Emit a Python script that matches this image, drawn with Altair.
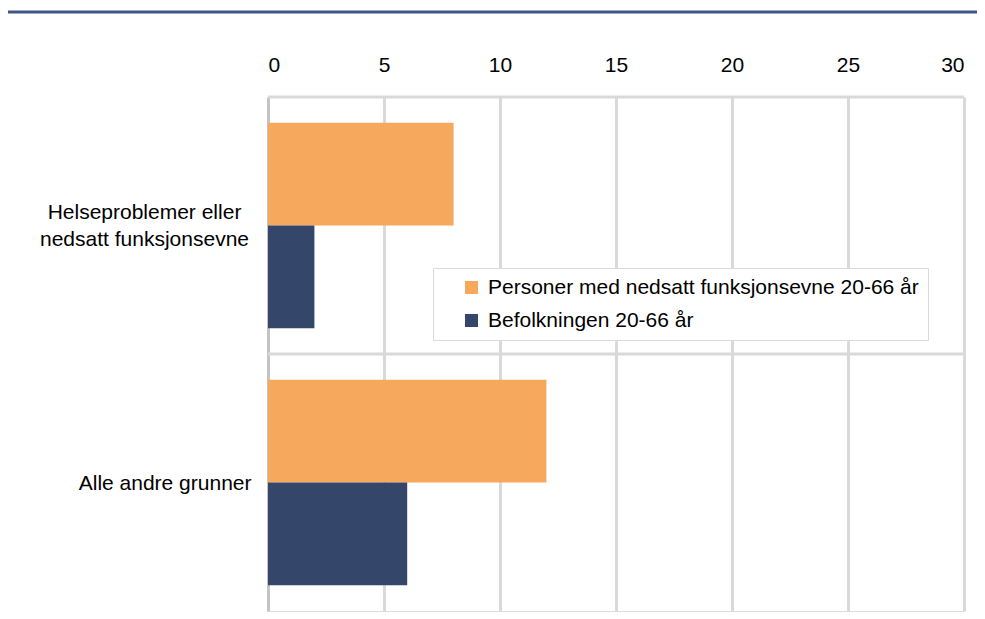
import altair as alt
import pandas as pd

categories = ["Helseproblemer eller nedsatt funksjonsevne", "Alle andre grunner"]
series = ["Personer med nedsatt funksjonsevne 20-66 år", "Befolkningen 20-66 år"]
values_disabled = [8.0, 12.0]
values_population = [2.0, 6.0]
colors = ["#F6A85C", "#34466A"]
x_ticks = [0, 5, 10, 15, 20, 25, 30]

rows = []
for c, v1, v2 in zip(categories, values_disabled, values_population):
    rows.append({"cat": c, "series": series[0], "value": v1})
    rows.append({"cat": c, "series": series[1], "value": v2})
df = pd.DataFrame(rows)
cat_df = pd.DataFrame({"cat": categories})
one_df = pd.DataFrame({"k": [0]})

FONT = "Liberation Sans"
FS = 21
TWO = "datum.value == 'Helseproblemer eller nedsatt funksjonsevne'"

y_scale = alt.Scale(domain=categories, paddingInner=0, paddingOuter=0)
y_axis = alt.Axis(title=None, ticks=False, domain=True, domainColor="#C4C4C4",
                  domainWidth=3, grid=False,
                  labelAlign={"condition": {"test": TWO, "value": "center"}, "value": "right"},
                  labelPadding={"condition": {"test": TWO, "value": 124}, "value": 17},
                  labelOffset={"condition": {"test": TWO, "value": -13}, "value": 1},
                  labelBaseline="middle",
                  labelFontSize=FS, labelFont=FONT, labelColor="#000000",
                  labelLineHeight=27, labelLimit=400,
                  labelExpr=TWO + " ? ['Helseproblemer eller', 'nedsatt funksjonsevne'] : datum.label")

sep = alt.Chart(cat_df).mark_rule(color="#D9D9D9", strokeWidth=3).encode(
    y=alt.Y("cat:N", scale=y_scale, sort=categories, bandPosition=0, axis=y_axis)
)

bars = alt.Chart(df).mark_bar().encode(
    x=alt.X("value:Q",
            scale=alt.Scale(domain=[0, 30], nice=False),
            axis=alt.Axis(orient="top", values=x_ticks, title=None, domain=False,
                          ticks=False, labelPadding=22, labelFontSize=FS,
                          labelFont=FONT, labelColor="#000000",
                          grid=True, gridColor="#D9D9D9", gridWidth=3)),
    y=alt.Y("cat:N", scale=y_scale, sort=categories, axis=y_axis),
    yOffset=alt.YOffset("series:N", sort=series,
                        scale=alt.Scale(domain=series, paddingInner=0, paddingOuter=0.25)),
    color=alt.Color("series:N",
                    scale=alt.Scale(domain=series, range=colors),
                    legend=alt.Legend(title=None, orient="none", legendX=165, legendY=171,
                                      fillColor="#FFFFFF", strokeColor="#D9D9D9",
                                      padding=9, symbolType="square", symbolSize=169,
                                      symbolOffset=19, labelOffset=6, labelFontSize=FS,
                                      labelFont=FONT, labelColor="#000000",
                                      rowPadding=11, labelLimit=600,
                                      labelExpr="datum.label + (datum.value == '" + series[0] + "' ? '\u00a0\u00a0\u00a0\u00a0' : '')",
                                      symbolStrokeWidth=0)),
)

top_line = alt.Chart(one_df).mark_rule(color="#3F5787", strokeWidth=3).encode(
    x=alt.value(-263), x2=alt.value(709), y=alt.value(-85)
)

chart = alt.layer(sep, bars, top_line).properties(
    width=696, height=514,
    autosize=alt.AutoSizeParams(type="none"),
    padding={"left": 260, "top": 89, "right": 13, "bottom": 4},
).configure_view(
    stroke="#D9D9D9", strokeWidth=3
).configure(
    font=FONT, background="#FFFFFF"
)

chart.save("out.html", embed_options={"renderer": "svg", "actions": False})
